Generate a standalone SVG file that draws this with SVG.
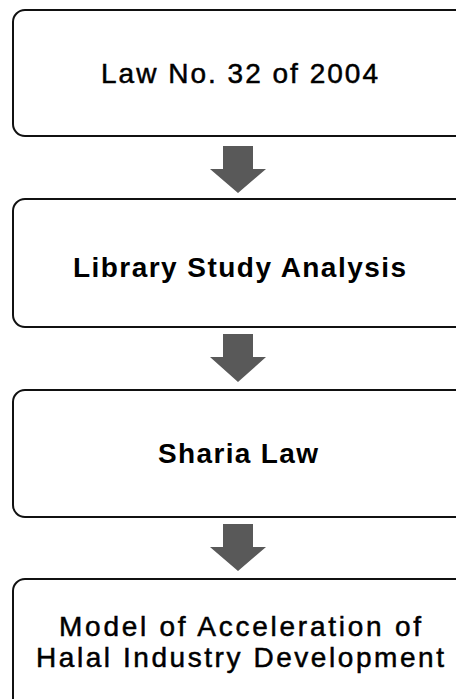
<svg xmlns="http://www.w3.org/2000/svg" width="456" height="699" viewBox="0 0 456 699">
<style>
.box{fill:#fff;stroke:#111;stroke-width:2}
.arr{fill:#595959}
.t{font-family:"Liberation Sans",Arial,sans-serif;font-size:28px;fill:#000;text-anchor:middle;stroke:#000;stroke-width:0.5px}
.tb{font-weight:bold;stroke-width:0}
</style>
<rect width="456" height="699" fill="#fff"/>
<g id="connectors">
<path class="arr" d="M223,146 H253 V169 H266 L238,193 L210,169 H223 Z"/>
<path class="arr" d="M223,334 H253 V357 H266 L238,382 L210,357 H223 Z"/>
<path class="arr" d="M223,524 H253 V547 H266 L238,571 L210,547 H223 Z"/>
</g>
<g id="node1">
<rect class="box" x="13" y="10" width="470" height="126" rx="12"/>
<text class="t" x="239.5" y="83" textLength="277" lengthAdjust="spacing">Law No. 32 of 2004</text>
</g>
<g id="node2">
<rect class="box" x="13" y="199" width="470" height="128" rx="12"/>
<text class="t tb" x="239.5" y="277" textLength="333" lengthAdjust="spacing">Library Study Analysis</text>
</g>
<g id="node3">
<rect class="box" x="13" y="390" width="470" height="127" rx="12"/>
<text class="t tb" x="238" y="463" textLength="160" lengthAdjust="spacing">Sharia Law</text>
</g>
<g id="node4">
<rect class="box" x="13" y="579" width="470" height="140" rx="12"/>
<text class="t" x="240" y="636" textLength="362" lengthAdjust="spacing">Model of Acceleration of</text>
<text class="t" x="240" y="667" textLength="408" lengthAdjust="spacing">Halal Industry Development</text>
</g>
</svg>
